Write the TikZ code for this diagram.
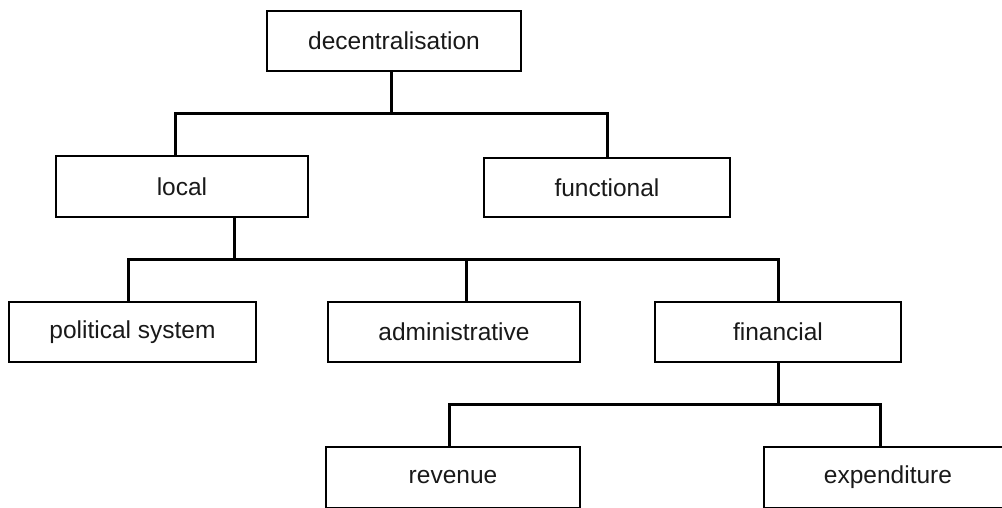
\documentclass[tikz,border=0pt]{standalone}
\usepackage{fontspec}
\setmainfont{Liberation Sans}
\begin{document}
\begin{tikzpicture}[x=1pt,y=-1pt,
  box/.style={draw=black, line width=1.8pt, rectangle, inner sep=0pt, fill=white,
    font=\fontsize{24.5}{29}\selectfont, text=black!90},
  conn/.style={draw=black, line width=3pt}]
\useasboundingbox (0,0) rectangle (1002,507);
\clip (0,0) rectangle (1002,507);
\fill[white] (0,0) rectangle (1002,507);
% nodes
\node[box, minimum width=254pt, minimum height=60pt] (deco) at (394,41) {decentralisation};
\node[box, minimum width=252pt, minimum height=61pt] (local) at (182,186.5) {local};
\node[box, minimum width=246pt, minimum height=59pt] (functional) at (607,187.5) {functional};
\node[box, minimum width=247pt, minimum height=60pt] (political) at (132.5,332) {political system};
\node[box, minimum width=252pt, minimum height=60pt] (admin) at (454,332) {administrative};
\node[box, minimum width=246pt, minimum height=60pt] (financial) at (778,332) {financial};
\node[box, minimum width=254pt, minimum height=61pt] (revenue) at (453,477.5) {revenue};
\node[box, minimum width=248pt, minimum height=61pt] (expenditure) at (888,477.5) {expenditure};
% junctions
\coordinate (j1) at (391,113);
\coordinate (j2) at (234,259);
\coordinate (j3) at (778,404);
% connectors
\draw[conn] (deco.south -| j1) -- (j1);
\draw[conn] ([xshift=-7pt]local.north) |- (j1) -| (functional.north);
\draw[conn] (local.south -| j2) -- (j2);
\draw[conn] ([xshift=-4.5pt]political.north) |- (j2) -| (financial.north);
\draw[conn] ([xshift=12pt]admin.north) -- ([xshift=12pt]admin.north |- j2);
\draw[conn] (financial.south) -- (j3);
\draw[conn] ([xshift=-4pt]revenue.north) |- (j3) -| ([xshift=-8pt]expenditure.north);
\end{tikzpicture}
\end{document}
